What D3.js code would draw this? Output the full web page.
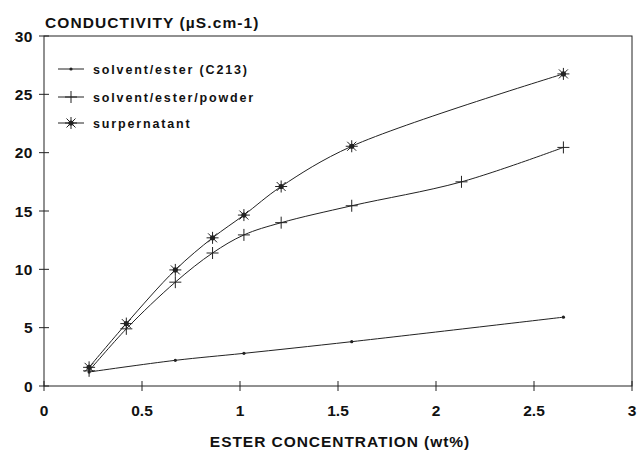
<!DOCTYPE html>
<html>
<head>
<meta charset="utf-8">
<script src="https://cdn.jsdelivr.net/npm/d3@7"></script>
<style>
  body { margin: 0; background: #fff; }
  text { font-family: "Liberation Sans", Arial, sans-serif; font-weight: bold; fill: #111; }
</style>
</head>
<body>
<div id="chart"></div>
<script>
// ===== DATA =====
const esterX = [0.23, 0.67, 1.02, 1.57, 2.65];
const esterY = [1.2, 2.2, 2.8, 3.8, 5.9];

const powderX = [0.23, 0.42, 0.67, 0.86, 1.02, 1.21, 1.57, 2.13, 2.65];
const powderY = [1.3, 4.9, 8.9, 11.4, 12.95, 14.0, 15.45, 17.5, 20.45];

const superX = [0.23, 0.42, 0.67, 0.86, 1.02, 1.21, 1.57, 2.65];
const superY = [1.6, 5.35, 9.95, 12.7, 14.65, 17.1, 20.55, 26.75];

const seriesNames = ['solvent/ester (C213)', 'solvent/ester/powder', 'surpernatant'];
const xTicks = [0, 0.5, 1, 1.5, 2, 2.5, 3];
const yTicks = [0, 5, 10, 15, 20, 25, 30];

const W = 638, H = 455;
const margin = { left: 44, right: 6, top: 36, bottom: 69 };

const svg = d3.select('#chart').append('svg')
  .attr('width', W)
  .attr('height', H);

const x = d3.scaleLinear().domain([0, 3]).range([margin.left, W - margin.right]);
const y = d3.scaleLinear().domain([0, 30]).range([H - margin.bottom, margin.top]);

const ink = '#222';

// frame
svg.append('rect')
  .attr('x', x(0)).attr('y', y(30))
  .attr('width', x(3) - x(0)).attr('height', y(0) - y(30))
  .attr('fill', 'none').attr('stroke', ink).attr('stroke-width', 1);

// x ticks (cross the axis)
svg.append('g').selectAll('line').data(xTicks).join('line')
  .attr('x1', d => x(d)).attr('x2', d => x(d))
  .attr('y1', y(0) - 5).attr('y2', y(0) + 5)
  .attr('stroke', ink);
svg.append('g').selectAll('text').data(xTicks).join('text')
  .attr('x', d => x(d)).attr('y', y(0) + 30)
  .attr('text-anchor', 'middle')
  .attr('font-size', 15.5)
  .text(d => d);

// y ticks
svg.append('g').selectAll('line').data(yTicks).join('line')
  .attr('x1', x(0) - 5).attr('x2', x(0) + 5)
  .attr('y1', d => y(d)).attr('y2', d => y(d))
  .attr('stroke', ink);
svg.append('g').selectAll('text').data(yTicks).join('text')
  .attr('x', 33).attr('y', d => y(d) + 5.5)
  .attr('text-anchor', 'end')
  .attr('font-size', 15.5)
  .attr('letter-spacing', 0.5)
  .text(d => d);

// titles
svg.append('text')
  .attr('x', 45).attr('y', 28)
  .attr('font-size', 15.5)
  .attr('letter-spacing', 1.1)
  .text('CONDUCTIVITY (µS.cm-1)');

svg.append('text')
  .attr('x', 340).attr('y', 447)
  .attr('text-anchor', 'middle')
  .attr('font-size', 15.5)
  .attr('letter-spacing', 0.95)
  .text('ESTER CONCENTRATION (wt%)');

// lines
const line = d3.line()
  .x(d => x(d[0]))
  .y(d => y(d[1]))
  .curve(d3.curveCatmullRom.alpha(0.5));

const series = [
  { pts: d3.zip(esterX, esterY), mark: 'dot' },
  { pts: d3.zip(powderX, powderY), mark: 'plus' },
  { pts: d3.zip(superX, superY), mark: 'star' }
];

function drawMark(g, mark, cx, cy) {
  if (mark === 'dot') {
    g.append('circle').attr('cx', cx).attr('cy', cy).attr('r', 1.6).attr('fill', ink);
    return;
  }
  const s = 6;
  g.append('path')
    .attr('d', `M${cx - s},${cy}H${cx + s}M${cx},${cy - s}V${cy + s}`)
    .attr('stroke', ink).attr('stroke-width', 1).attr('fill', 'none');
  if (mark === 'star') {
    const d = 4.5;
    g.append('path')
      .attr('d', `M${cx - d},${cy - d}L${cx + d},${cy + d}M${cx - d},${cy + d}L${cx + d},${cy - d}`)
      .attr('stroke', ink).attr('stroke-width', 1).attr('fill', 'none');
    g.append('circle').attr('cx', cx).attr('cy', cy).attr('r', 2.6).attr('fill', ink);
  }
}

series.forEach(s => {
  svg.append('path')
    .datum(s.pts)
    .attr('d', line)
    .attr('fill', 'none')
    .attr('stroke', ink)
    .attr('stroke-width', 1);
  const g = svg.append('g');
  s.pts.forEach(p => drawMark(g, s.mark, x(p[0]), y(p[1])));
});

// legend
const legendY = [69, 97, 123];
series.forEach((s, i) => {
  const g = svg.append('g');
  g.append('line')
    .attr('x1', 58).attr('x2', 84)
    .attr('y1', legendY[i]).attr('y2', legendY[i])
    .attr('stroke', ink);
  drawMark(g, s.mark, 71, legendY[i]);
  g.append('text')
    .attr('x', 93).attr('y', legendY[i] + 4.5)
    .attr('font-size', 12.5)
    .attr('letter-spacing', 1.85)
    .text(seriesNames[i]);
});
</script>
</body>
</html>
